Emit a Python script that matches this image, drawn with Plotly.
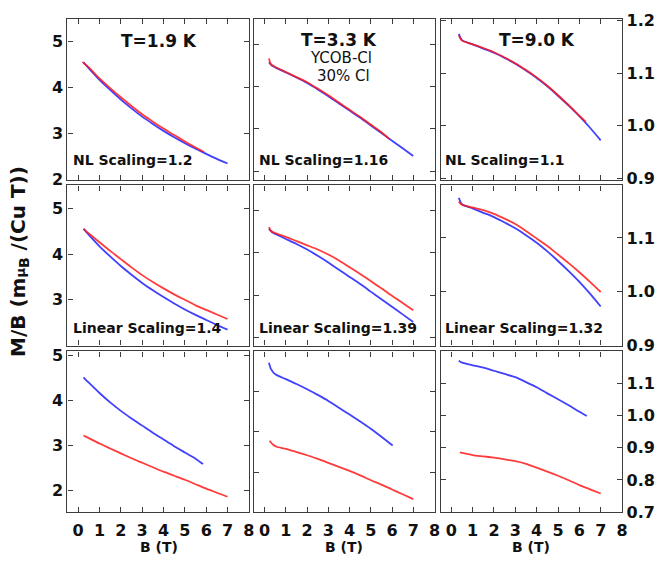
import plotly.graph_objects as go

# ---------------- data ----------------
# T = 1.9 K  (left column, left axis units)
B_19_blue = [0.25, 0.5, 1, 1.5, 2, 2.5, 3, 3.5, 4, 4.5, 5, 5.5, 6, 6.5, 7]
M_19_blue = [4.55, 4.42, 4.17, 3.95, 3.74, 3.55, 3.37, 3.21, 3.06, 2.92, 2.79, 2.67, 2.56, 2.45, 2.35]
B_19_red_nl = [0.2, 0.5, 1, 1.5, 2, 2.5, 3, 3.5, 4, 4.5, 5, 5.5, 5.9]
M_19_red_nl = [4.56, 4.44, 4.20, 3.99, 3.79, 3.60, 3.42, 3.26, 3.11, 2.97, 2.83, 2.70, 2.60]
B_19_red_lin = [0.25, 0.5, 1, 1.5, 2, 2.5, 3, 3.5, 4, 4.5, 5, 5.5, 6, 6.5, 7]
M_19_red_lin = [4.55, 4.45, 4.26, 4.07, 3.89, 3.71, 3.54, 3.39, 3.25, 3.12, 3.00, 2.88, 2.78, 2.68, 2.58]
B_19_blue_raw = [0.25, 0.5, 1, 1.5, 2, 2.5, 3, 3.5, 4, 4.5, 5, 5.5, 5.85]
M_19_blue_raw = [4.52, 4.40, 4.17, 3.96, 3.77, 3.60, 3.44, 3.28, 3.13, 2.98, 2.84, 2.70, 2.58]
B_19_red_raw = [0.25, 0.5, 1, 1.5, 2, 2.5, 3, 3.5, 4, 4.5, 5, 5.5, 6, 6.5, 7]
M_19_red_raw = [3.22, 3.16, 3.04, 2.93, 2.82, 2.71, 2.61, 2.51, 2.41, 2.32, 2.23, 2.13, 2.03, 1.94, 1.85]

# T = 3.3 K  (middle column, unlabeled axis units)
B_33_blue = [0.2, 0.35, 0.5, 1, 1.5, 2, 2.5, 3, 3.5, 4, 4.5, 5, 5.5, 6, 6.5, 7]
M_33_blue = [4.57, 4.49, 4.45, 4.33, 4.21, 4.08, 3.93, 3.77, 3.60, 3.43, 3.26, 3.08, 2.90, 2.72, 2.54, 2.36]
B_33_red_nl = [0.2, 0.3, 0.5, 1, 1.5, 2, 2.5, 3, 3.5, 4, 4.5, 5, 5.5, 5.9]
M_33_red_nl = [4.66, 4.52, 4.46, 4.34, 4.22, 4.10, 3.95, 3.79, 3.62, 3.45, 3.28, 3.10, 2.92, 2.75]
B_33_red_lin = [0.2, 0.3, 0.5, 1, 1.5, 2, 2.5, 3, 3.5, 4, 4.5, 5, 5.5, 6, 6.5, 7]
M_33_red_lin = [4.61, 4.52, 4.47, 4.38, 4.28, 4.18, 4.08, 3.96, 3.82, 3.66, 3.50, 3.33, 3.16, 2.98, 2.81, 2.64]
B_33_blue_raw = [0.2, 0.3, 0.5, 1, 1.5, 2, 2.5, 3, 3.5, 4, 4.5, 5, 5.5, 6.03]
M_33_blue_raw = [4.72, 4.56, 4.43, 4.31, 4.19, 4.06, 3.92, 3.77, 3.60, 3.43, 3.26, 3.08, 2.88, 2.66]
B_33_red_raw = [0.23, 0.4, 0.56, 1, 1.5, 2, 2.5, 3, 3.5, 4, 4.5, 5, 5.5, 6, 6.5, 7]
M_33_red_raw = [2.78, 2.68, 2.63, 2.58, 2.50, 2.42, 2.33, 2.23, 2.13, 2.03, 1.92, 1.80, 1.69, 1.57, 1.45, 1.33]

# T = 9.0 K  (right column, right axis units)
B_90_blue = [0.35, 0.5, 1, 1.5, 2, 2.5, 3, 3.5, 4, 4.5, 5, 5.5, 6, 6.5, 7]
M_90_blue = [1.175, 1.163, 1.155, 1.147, 1.139, 1.129, 1.118, 1.105, 1.091, 1.075, 1.057, 1.038, 1.018, 0.996, 0.972]
B_90_red_nl = [0.35, 0.5, 1, 1.5, 2, 2.5, 3, 3.5, 4, 4.5, 5, 5.5, 6, 6.3]
M_90_red_nl = [1.172, 1.162, 1.155, 1.148, 1.140, 1.130, 1.119, 1.106, 1.092, 1.076, 1.058, 1.039, 1.019, 1.007]
B_90_red_lin = [0.35, 0.5, 1, 1.5, 2, 2.5, 3, 3.5, 4, 4.5, 5, 5.5, 6, 6.5, 7]
M_90_red_lin = [1.168, 1.162, 1.157, 1.152, 1.145, 1.136, 1.126, 1.113, 1.099, 1.085, 1.069, 1.053, 1.036, 1.018, 0.999]
B_90_blue_raw = [0.35, 0.5, 1, 1.5, 2, 2.5, 3, 3.5, 4, 4.5, 5, 5.5, 6, 6.35]
M_90_blue_raw = [1.169, 1.163, 1.155, 1.148, 1.138, 1.128, 1.118, 1.103, 1.087, 1.068, 1.050, 1.031, 1.011, 0.998]
B_90_red_raw = [0.1, None, 0.4, 1, 1.5, 2, 2.5, 3, 3.5, 4, 4.5, 5, 5.5, 6, 6.5, 7]
M_90_red_raw = [0.95, None, 0.885, 0.877, 0.873, 0.869, 0.864, 0.858, 0.850, 0.838, 0.826, 0.813, 0.799, 0.784, 0.771, 0.758]

x_ticks = [0, 1, 2, 3, 4, 5, 6, 7, 8]
temps = ["T=1.9 K", "T=3.3 K", "T=9.0 K"]
nl_labels = ["NL Scaling=1.2", "NL Scaling=1.16", "NL Scaling=1.1"]
lin_labels = ["Linear Scaling=1.4", "Linear Scaling=1.39", "Linear Scaling=1.32"]

# ---------------- layout geometry ----------------
W, H = 659, 568
cols_px = [(68, 251), (256, 438), (444, 627)]
rows_px = [(12, 178), (184, 349), (355, 521)]


def fx(x):
    return x / W


def fy(y):
    return 1 - y / H


BLUE = "rgba(30,30,255,0.85)"
RED = "rgba(255,25,25,0.85)"
AX = "#3c3c3c"
FONT = "DejaVu Sans"

panels = {
    (0, 0): [(B_19_blue, M_19_blue, BLUE), (B_19_red_nl, M_19_red_nl, RED)],
    (1, 0): [(B_19_blue, M_19_blue, BLUE), (B_19_red_lin, M_19_red_lin, RED)],
    (2, 0): [(B_19_blue_raw, M_19_blue_raw, BLUE), (B_19_red_raw, M_19_red_raw, RED)],
    (0, 1): [(B_33_blue, M_33_blue, BLUE), (B_33_red_nl, M_33_red_nl, RED)],
    (1, 1): [(B_33_blue, M_33_blue, BLUE), (B_33_red_lin, M_33_red_lin, RED)],
    (2, 1): [(B_33_blue_raw, M_33_blue_raw, BLUE), (B_33_red_raw, M_33_red_raw, RED)],
    (0, 2): [(B_90_blue, M_90_blue, BLUE), (B_90_red_nl, M_90_red_nl, RED)],
    (1, 2): [(B_90_blue, M_90_blue, BLUE), (B_90_red_lin, M_90_red_lin, RED)],
    (2, 2): [(B_90_blue_raw, M_90_blue_raw, BLUE), (B_90_red_raw, M_90_red_raw, RED)],
}

yspec = {
    (0, 0): dict(range=[1.999, 5.5], tickvals=[2, 3, 4, 5], labels=True),
    (1, 0): dict(range=[2.0, 5.5], tickvals=[3, 4, 5], labels=True),
    (2, 0): dict(range=[1.5, 5.1], tickvals=[2, 3, 4, 5], labels=True),
    (0, 1): dict(range=[1.8, 5.6], tickvals=[2, 3, 4, 5], labels=False),
    (1, 1): dict(range=[1.8, 5.6], tickvals=[2, 3, 4, 5], labels=False),
    (2, 1): dict(range=[1.0, 5.0], tickvals=[2, 3, 4], labels=False),
    (0, 2): dict(range=[0.897, 1.204], tickvals=[0.9, 1.0, 1.1, 1.2], labels=True),
    (1, 2): dict(range=[0.899, 1.198], tickvals=[0.9, 1.0, 1.1], labels=True),
    (2, 2): dict(range=[0.6995, 1.198], tickvals=[0.7, 0.8, 0.9, 1.0, 1.1], labels=True),
}

fig = go.Figure()
layout = {}
for (r, c), series in panels.items():
    k = r * 3 + c + 1
    xa = "x" if k == 1 else f"x{k}"
    ya = "y" if k == 1 else f"y{k}"
    for bx, my, col in series:
        fig.add_trace(go.Scatter(x=bx, y=my, mode="lines", xaxis=xa, yaxis=ya,
                                 line=dict(color=col, width=1.8, shape="spline", smoothing=0.6),
                                 connectgaps=False, showlegend=False, hoverinfo="skip"))
    x0, x1 = cols_px[c]
    y0, y1 = rows_px[r]
    common = dict(showline=True, linecolor=AX, linewidth=1.3, mirror="ticks",
                  ticks="inside", ticklen=5, tickwidth=1.2, tickcolor=AX,
                  showgrid=False, zeroline=False,
                  tickfont=dict(family=FONT, size=16, color="#111", weight="bold"))
    layout["xaxis" if k == 1 else f"xaxis{k}"] = dict(
        common, domain=[fx(x0), fx(x1)], anchor=ya, range=[-0.5, 8.01],
        tickvals=x_ticks, showticklabels=(r == 2), ticklabelstandoff=3)
    ys = yspec[(r, c)]
    yd = dict(common, domain=[fy(y1), fy(y0)], anchor=xa, range=ys["range"],
              tickvals=ys["tickvals"], showticklabels=ys["labels"])
    if c == 2:
        yd["side"] = "right"
        yd["tickformat"] = ".1f"
    layout["yaxis" if k == 1 else f"yaxis{k}"] = yd

annotations = []


def ann(text, x, y, size, bold=True, xanchor="center", angle=0):
    annotations.append(dict(text=text, x=fx(x), y=fy(y), xref="paper", yref="paper",
                            xanchor=xanchor, yanchor="middle", showarrow=False,
                            textangle=angle,
                            font=dict(family=FONT, size=size, color="#111",
                                      weight="bold" if bold else "normal")))


ann(temps[0], 160, 35, 17)
ann(temps[1], 342, 34, 17)
ann(temps[2], 541, 34, 17)
ann("YCOB-Cl", 344, 53, 15, bold=False)
ann("30% Cl", 346, 71, 15, bold=False)
for c, xl in enumerate([72, 259, 446]):
    ann(nl_labels[c], xl, 158, 14, xanchor="left")
    ann(lin_labels[c], xl, 331, 14, xanchor="left")
for xc in [160, 347, 535]:
    ann("B (T)", xc, 557, 14)
ann("M/B (m<span style='font-size:13px'>μ</span><sub>B</sub> /(Cu T))", 19, 262, 20, angle=-90)

fig.update_layout(width=W, height=H, margin=dict(l=0, r=0, t=0, b=0),
                  paper_bgcolor="white", plot_bgcolor="white",
                  annotations=annotations, **layout)
fig.write_html("out.html", config={"displayModeBar": False},
               post_script="document.body.style.margin='0';document.body.style.overflow='hidden';")
